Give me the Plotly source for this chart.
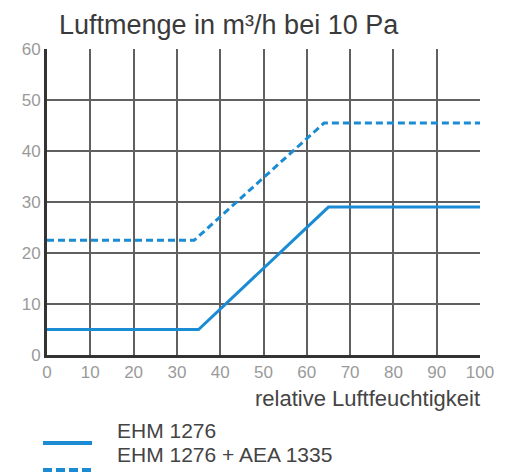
import plotly.graph_objects as go

# Data
humidity_solid = [0, 35, 65, 100]
airflow_solid = [5, 5, 29, 29]
humidity_dashed = [0, 34, 64, 100]
airflow_dashed = [22.5, 22.5, 45.5, 45.5]
series_names = ["EHM 1276", "EHM 1276 + AEA 1335"]
x_ticks = [0, 10, 20, 30, 40, 50, 60, 70, 80, 90, 100]
y_ticks = [0, 10, 20, 30, 40, 50, 60]

blue = "#1b8bd3"
grid = "#606060"
font_fam = "Liberation Sans, Arial, sans-serif"

# page body has an 8px margin: plot area spans window x 47..480, y 49..355
OFF = 8
PL, PR, PT, PB = 47, 480, 49, 355
W, H = 512 - OFF, 475 - OFF

def px(xw):
    return (xw - PL) / (PR - PL)

def py(yw):
    return 1 - (yw - PT) / (PB - PT)

fig = go.Figure()
fig.add_trace(go.Scatter(x=humidity_solid, y=airflow_solid, mode="lines",
                         name=series_names[0], line=dict(color=blue, width=3)))
fig.add_trace(go.Scatter(x=humidity_dashed, y=airflow_dashed, mode="lines",
                         name=series_names[1], line=dict(color=blue, width=3, dash="7px,4px")))

fig.update_layout(
    width=W, height=H,
    margin=dict(l=PL - OFF, r=512 - PR, t=PT - OFF, b=475 - PB, autoexpand=False),
    paper_bgcolor="white", plot_bgcolor="white",
    showlegend=False,
    font=dict(family=font_fam, color="#999"),
)
fig.update_xaxes(range=[0, 100], tickvals=x_ticks, showgrid=True, gridcolor=grid, gridwidth=1.6,
                 zeroline=False, showline=True, linecolor="#333", linewidth=3,
                 ticks="", tickfont=dict(size=17, color="#9a9a9a", family=font_fam))
fig.update_yaxes(range=[0, 60], tickvals=y_ticks, showgrid=True, gridcolor=grid, gridwidth=1.6,
                 zeroline=False, showline=True, linecolor="#333", linewidth=3,
                 ticks="", tickfont=dict(size=17, color="#9a9a9a", family=font_fam))

# Title
fig.add_annotation(text="Luftmenge in m³/h bei 10 Pa", xref="paper", yref="paper",
                   x=px(57), y=py(25), xanchor="left", yanchor="middle", showarrow=False,
                   font=dict(size=27, color="#3a3a3a", family=font_fam))
# x-axis title
fig.add_annotation(text="relative Luftfeuchtigkeit", xref="paper", yref="paper",
                   x=px(482), y=py(398), xanchor="right", yanchor="middle", showarrow=False,
                   font=dict(size=22, color="#444", family=font_fam))

# Legend (manual)
text_y = [430, 454]
sample_y = [443, 470]
dashes = ["solid", "9px,4px"]
for i, name in enumerate(series_names):
    fig.add_shape(type="line", xref="paper", yref="paper",
                  x0=px(43), x1=px(92), y0=py(sample_y[i]), y1=py(sample_y[i]),
                  line=dict(color=blue, width=4, dash=dashes[i]))
    fig.add_annotation(text=name, xref="paper", yref="paper", x=px(115), y=py(text_y[i]),
                       xanchor="left", yanchor="middle", showarrow=False,
                       font=dict(size=21, color="#444", family=font_fam))

fig.write_html("out.html")
